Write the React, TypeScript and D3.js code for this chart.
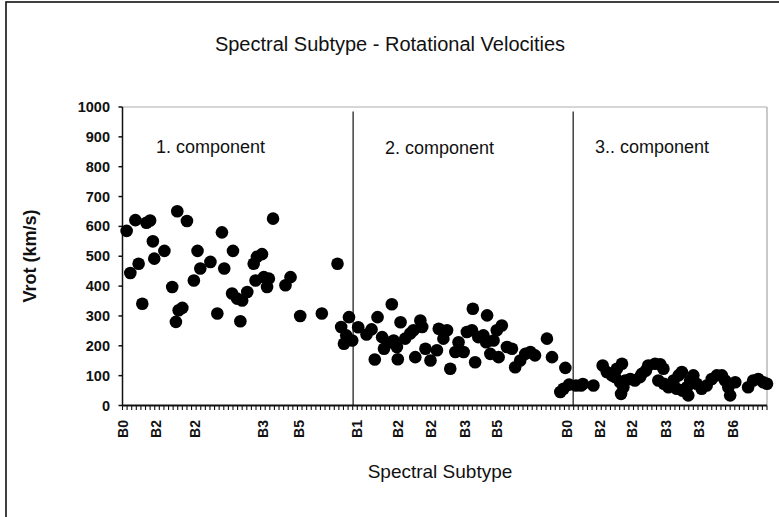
import React from "react";
import * as d3 from "d3";

// ---- data ----
const comp1Pos = [0.9,1.7,2.8,3.5,4.3,5.2,6.0,6.6,6.9,9.1,10.8,11.6,11.9,12.2,13.0,14.0,15.5,16.3,16.9,19.1,20.6,21.6,22.1,23.8,24.0,24.9,25.6,26.0,27.1,28.5,28.9,29.2,30.3,30.7,31.4,31.8,32.7,35.4,36.5,38.6,43.3,46.7,47.5,48.1,48.6,49.2,49.9];
const comp1Vrot = [585,444,621,475,341,612,620,550,492,518,397,280,651,319,327,618,419,518,459,481,308,580,459,375,518,358,282,352,380,475,419,498,507,430,397,425,626,403,430,300,308,475,263,207,235,296,218];

const comp2Pos = [51.2,53.0,54.1,54.8,55.4,56.4,56.8,58.2,58.5,58.9,59.6,59.8,60.4,61.4,62.5,63.2,63.6,64.7,65.1,65.8,66.9,68.3,68.7,69.7,70.5,71.2,72.3,73.0,74.1,74.8,75.9,76.1,76.6,77.3,78.4,79.2,79.0,79.9,80.6,81.3,81.7,82.4,83.5,84.6,85.3,86.4,87.5,88.6,89.6,92.2,93.3,96.2];
const comp2Vrot = [262,238,255,154,296,229,190,212,339,218,196,155,279,224,241,252,162,285,263,190,151,185,257,224,252,123,179,212,179,246,252,324,145,229,235,302,212,173,218,252,162,268,196,190,128,151,173,179,168,224,162,126];

const comp3Pos = [95.1,95.8,97.0,98.5,99.6,100.0,102.3,104.3,105.2,106.3,107.0,107.4,108.1,108.5,108.3,108.8,109.2,110.3,111.3,112.4,112.8,113.7,114.2,115.7,116.4,116.8,117.5,117.6,118.6,119.7,120.4,120.8,121.5,121.6,122.6,122.9,123.3,124.0,124.7,125.8,126.9,128.0,129.1,130.2,130.9,131.6,132.0,133.1,135.9,137.0,138.1,139.2,140.0];
const comp3Vrot = [45,56,70,67,67,72,67,134,112,101,95,123,78,140,39,61,84,89,84,95,106,117,134,140,84,138,123,73,61,84,56,101,112,50,61,34,84,101,73,56,67,89,101,101,84,61,34,78,61,84,89,78,73];

const tickLabelPos = [0.2,7.2,15.8,30.6,38.4,51.0,59.9,67.1,74.5,81.4,96.6,103.8,110.7,118.1,125.3,132.7];
const tickLabels = ["B0","B2","B2","B3","B5","B1","B2","B2","B3","B5","B0","B2","B2","B3","B3","B6"];

const dividerPos = [50.1, 97.9];
const componentNames = ["1. component", "2. component", "3.. component"];
const yTicks = [0,100,200,300,400,500,600,700,800,900,1000];
const N_CAT = 140;

const FONT = "'Liberation Sans', Arial, sans-serif";

export default function App() {
  const W = 779, H = 517;
  const x = d3.scaleLinear().domain([0, N_CAT]).range([122.5, 767]);
  const y = d3.scaleLinear().domain([0, 1000]).range([405.5, 107]);

  const points = [
    ...comp1Pos.map((p, i) => [p, comp1Vrot[i]]),
    ...comp2Pos.map((p, i) => [p, comp2Vrot[i]]),
    ...comp3Pos.map((p, i) => [p, comp3Vrot[i]]),
  ];

  const compLabelX = [156, 385, 595];
  const compLabelY = [153, 154, 153];

  return (
    <svg width={W} height={H} style={{ position: "absolute", left: 0, top: 0, background: "#fff" }}>
      {/* outer border */}
      <rect x={6} y={2} width={900} height={700} fill="#fff" stroke="#111" strokeWidth={1.6} />

      {/* title */}
      <text x={390} y={51} textAnchor="middle" fontFamily={FONT} fontSize={20} fill="#111">
        Spectral Subtype - Rotational Velocities
      </text>

      {/* plot frame (top/right) */}
      <line x1={x(0)} x2={x(N_CAT)} y1={y(1000)} y2={y(1000)} stroke="#c8c8c8" strokeWidth={1.5} />
      <line x1={x(N_CAT)} x2={x(N_CAT)} y1={y(1000)} y2={y(0)} stroke="#b8b8b8" strokeWidth={1.5} />

      {/* dividers */}
      {dividerPos.map((d, i) => (
        <line key={"dv" + i} x1={x(d)} x2={x(d)} y1={y(985)} y2={y(0)} stroke="#333" strokeWidth={1.4} />
      ))}

      {/* component labels */}
      {componentNames.map((n, i) => (
        <text key={"cn" + i} x={compLabelX[i]} y={compLabelY[i]} fontFamily={FONT} fontSize={18} fill="#111">
          {n}
        </text>
      ))}

      {/* y axis */}
      <line x1={x(0)} x2={x(0)} y1={y(1000)} y2={y(0)} stroke="#111" strokeWidth={1.5} />
      {yTicks.map((t) => (
        <g key={"yt" + t}>
          <line x1={x(0) - 4} x2={x(0)} y1={y(t)} y2={y(t)} stroke="#111" strokeWidth={1.5} />
          <text x={110} y={y(t)} dy="0.35em" textAnchor="end" fontFamily={FONT} fontWeight="bold" fontSize={14.5} fill="#111">
            {t}
          </text>
        </g>
      ))}

      {/* x axis */}
      <line x1={x(0)} x2={x(N_CAT)} y1={y(0)} y2={y(0)} stroke="#111" strokeWidth={1.8} />
      {d3.range(0, N_CAT + 1).map((i) => (
        <line key={"xt" + i} x1={x(i)} x2={x(i)} y1={y(0)} y2={y(0) + 4.5} stroke="#111" strokeWidth={1.1} />
      ))}
      {tickLabels.map((l, i) => (
        <text
          key={"xl" + i}
          transform={`translate(${x(tickLabelPos[i])},420) rotate(-90)`}
          textAnchor="end"
          dy="0.35em"
          fontFamily={FONT}
          fontWeight="bold"
          fontSize={14}
          fill="#111"
        >
          {l}
        </text>
      ))}

      {/* points */}
      {points.map((p, i) => (
        <circle key={"pt" + i} cx={x(p[0])} cy={y(p[1])} r={6.3} fill="#000" />
      ))}

      {/* axis titles */}
      <text x={440} y={478} textAnchor="middle" fontFamily={FONT} fontSize={19} fill="#111">
        Spectral Subtype
      </text>
      <text transform="translate(36,256) rotate(-90)" textAnchor="middle" fontFamily={FONT} fontWeight="bold" fontSize={18} fill="#111">
        Vrot (km/s)
      </text>
    </svg>
  );
}
